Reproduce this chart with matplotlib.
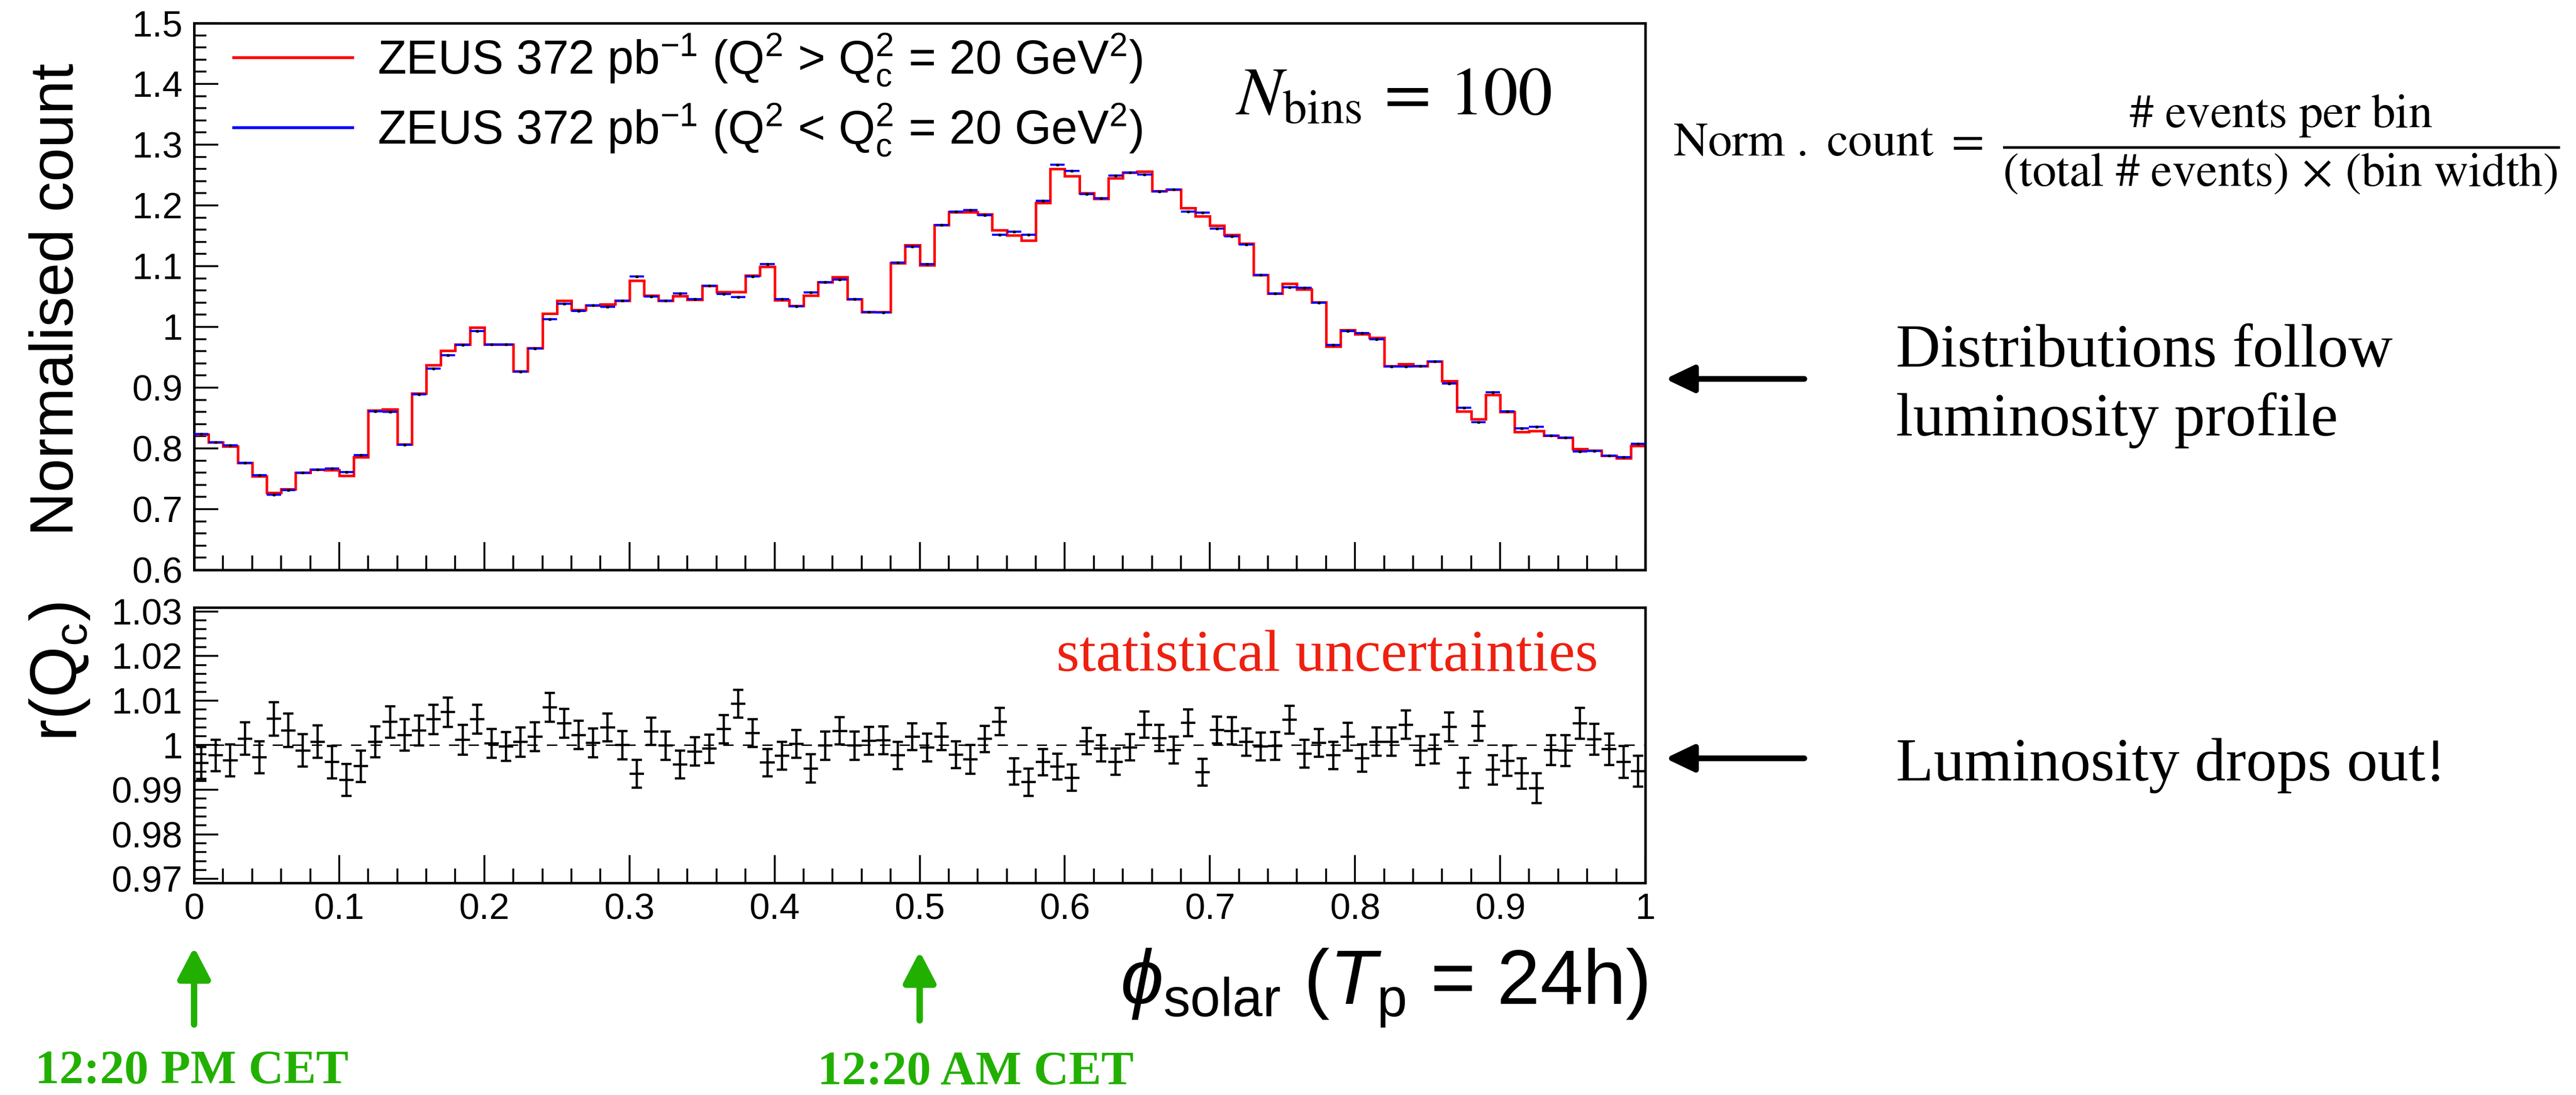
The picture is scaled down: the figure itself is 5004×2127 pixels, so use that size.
import numpy as np
import matplotlib
matplotlib.use("Agg")
import matplotlib.pyplot as plt
from matplotlib.lines import Line2D
from matplotlib.ticker import MultipleLocator, FuncFormatter

plt.rcParams['font.family'] = ['Liberation Sans', 'DejaVu Sans']
plt.rcParams['mathtext.fontset'] = 'custom'
plt.rcParams['mathtext.rm'] = 'Liberation Sans'
plt.rcParams['mathtext.it'] = 'Liberation Sans:italic'
plt.rcParams['mathtext.bf'] = 'Liberation Sans:bold'
plt.rcParams['lines.scale_dashes'] = False

# normalised counts, 100 bins in phi_solar
high_q2 = [0.823, 0.810, 0.803, 0.776, 0.754, 0.727, 0.733, 0.760, 0.765, 0.764,
           0.755, 0.786, 0.863, 0.864, 0.807, 0.891, 0.937, 0.961, 0.971, 0.999,
           0.971, 0.971, 0.927, 0.965, 1.022, 1.043, 1.028, 1.036, 1.037, 1.043,
           1.076, 1.052, 1.043, 1.051, 1.045, 1.068, 1.058, 1.058, 1.085, 1.099,
           1.044, 1.035, 1.052, 1.074, 1.082, 1.046, 1.025, 1.025, 1.105, 1.135,
           1.102, 1.168, 1.189, 1.189, 1.186, 1.159, 1.151, 1.142, 1.204, 1.260,
           1.248, 1.220, 1.211, 1.245, 1.254, 1.256, 1.224, 1.226, 1.196, 1.182,
           1.167, 1.152, 1.137, 1.086, 1.055, 1.071, 1.062, 1.041, 0.968, 0.995,
           0.988, 0.982, 0.936, 0.939, 0.936, 0.943, 0.911, 0.861, 0.848, 0.888,
           0.860, 0.827, 0.829, 0.821, 0.818, 0.799, 0.797, 0.788, 0.784, 0.804]

low_q2 = [0.824, 0.810, 0.805, 0.776, 0.756, 0.724, 0.731, 0.760, 0.765, 0.767,
          0.761, 0.789, 0.861, 0.860, 0.806, 0.889, 0.931, 0.953, 0.970, 0.993,
          0.971, 0.971, 0.926, 0.964, 1.013, 1.038, 1.026, 1.036, 1.033, 1.043,
          1.083, 1.050, 1.043, 1.055, 1.046, 1.068, 1.054, 1.049, 1.083, 1.103,
          1.046, 1.034, 1.057, 1.074, 1.078, 1.046, 1.025, 1.024, 1.106, 1.132,
          1.103, 1.168, 1.190, 1.192, 1.184, 1.152, 1.157, 1.152, 1.208, 1.267,
          1.257, 1.219, 1.212, 1.249, 1.254, 1.251, 1.223, 1.226, 1.190, 1.188,
          1.162, 1.149, 1.136, 1.086, 1.055, 1.065, 1.064, 1.040, 0.970, 0.993,
          0.990, 0.980, 0.935, 0.935, 0.936, 0.943, 0.907, 0.867, 0.843, 0.892,
          0.861, 0.833, 0.836, 0.821, 0.818, 0.795, 0.796, 0.788, 0.786, 0.808]

ratio = [0.9960, 0.9977, 0.9966, 1.0015, 0.9973, 1.0059, 1.0033, 0.9988, 1.0008, 0.9962,
         0.9922, 0.9953, 1.0008, 1.0052, 1.0023, 1.0033, 1.0058, 1.0074, 1.0012, 1.0058,
         1.0004, 0.9997, 1.0007, 1.0019, 1.0085, 1.0049, 1.0023, 1.0005, 1.0040, 1.0000,
         0.9936, 1.0031, 0.9999, 0.9957, 0.9986, 0.9992, 1.0036, 1.0093, 1.0027, 0.9961,
         0.9976, 1.0003, 0.9948, 0.9999, 1.0032, 0.9999, 1.0010, 1.0011, 0.9977, 1.0019,
         0.9995, 1.0019, 0.9979, 0.9968, 1.0014, 1.0053, 0.9941, 0.9917, 0.9962, 0.9952,
         0.9927, 1.0009, 0.9993, 0.9963, 0.9995, 1.0046, 1.0016, 0.9989, 1.0050, 0.9939,
         1.0034, 1.0032, 1.0007, 0.9997, 0.9998, 1.0057, 0.9981, 1.0005, 0.9977, 1.0019,
         0.9971, 1.0008, 1.0008, 1.0046, 0.9988, 0.9991, 1.0041, 0.9938, 1.0043, 0.9945,
         0.9965, 0.9937, 0.9904, 0.9989, 0.9988, 1.0049, 1.0013, 0.9991, 0.9962, 0.9942]

ratio_err = [0.00354, 0.00354, 0.00358, 0.00365, 0.00358, 0.00376, 0.00376, 0.00365, 0.00365, 0.00361,
             0.00358, 0.00354, 0.00347, 0.00350, 0.00356, 0.00339, 0.00332, 0.00327, 0.00332, 0.00325,
             0.00327, 0.00327, 0.00332, 0.00321, 0.00321, 0.00321, 0.00321, 0.00321, 0.00308, 0.00316,
             0.00310, 0.00310, 0.00319, 0.00314, 0.00314, 0.00314, 0.00321, 0.00316, 0.00310, 0.00308,
             0.00312, 0.00316, 0.00314, 0.00314, 0.00305, 0.00319, 0.00314, 0.00316, 0.00310, 0.00305,
             0.00314, 0.00301, 0.00299, 0.00321, 0.00294, 0.00303, 0.00299, 0.00305, 0.00299, 0.00292,
             0.00292, 0.00294, 0.00299, 0.00299, 0.00296, 0.00294, 0.00294, 0.00299, 0.00301, 0.00299,
             0.00305, 0.00305, 0.00310, 0.00310, 0.00310, 0.00310, 0.00310, 0.00310, 0.00310, 0.00314,
             0.00310, 0.00314, 0.00314, 0.00321, 0.00321, 0.00325, 0.00327, 0.00332, 0.00332, 0.00330,
             0.00339, 0.00341, 0.00336, 0.00339, 0.00350, 0.00343, 0.00347, 0.00350, 0.00358, 0.00347]

label_high = r'ZEUS 372 pb$^{-1}$ (Q$^{2}$ > Q$_{\mathrm{c}}^{2}$ = 20 GeV$^{2}$)'
label_low = r'ZEUS 372 pb$^{-1}$ (Q$^{2}$ < Q$_{\mathrm{c}}^{2}$ = 20 GeV$^{2}$)'

n_bins = len(high_q2)
edges = np.linspace(0, 1, n_bins + 1)
centers = 0.5 * (edges[:-1] + edges[1:])

W, H = 5004, 2127
def fx(x):
    return x / W
def fy(y):
    return 1 - y / H

green = '#22b000'
red_txt = '#ee2010'

fig = plt.figure(figsize=(W / 100, H / 100), dpi=100)
ax1 = fig.add_axes([fx(377), fy(1107), fx(3196) - fx(377), (1107 - 45) / H])
ax2 = fig.add_axes([fx(377), fy(1715), fx(3196) - fx(377), (1715 - 1180) / H])

fmt = FuncFormatter(lambda v, p: '%g' % round(v, 4))
for ax in (ax1, ax2):
    for s in ax.spines.values():
        s.set_linewidth(3.5)
    ax.tick_params(which='both', direction='in', top=False, right=False,
                   width=2.6, labelsize=51)
    ax.tick_params(axis='y', which='major', length=34, pad=16)
    ax.tick_params(axis='y', which='minor', length=17)
    ax.tick_params(axis='x', which='major', length=39, pad=14)
    ax.tick_params(axis='x', which='minor', length=20)
    ax.xaxis.set_major_locator(MultipleLocator(0.1))
    ax.xaxis.set_minor_locator(MultipleLocator(0.02))
    ax.xaxis.set_major_formatter(fmt)
    ax.yaxis.set_major_formatter(fmt)
    ax.set_xlim(0, 1)

# top panel
ax1.stairs(high_q2, edges, baseline=None, color='red', lw=3.6, zorder=2)
ax1.hlines(low_q2, edges[:-1], edges[1:], color='blue', lw=3.0, zorder=3)
ax1.plot(centers, low_q2, 's', color='black', ms=2.5, zorder=4)
ax1.set_ylim(0.6, 1.5)
ax1.yaxis.set_major_locator(MultipleLocator(0.1))
ax1.yaxis.set_minor_locator(MultipleLocator(0.02))
ax1.tick_params(axis='x', labelbottom=False)

handles = [Line2D([], [], color='red', lw=4), Line2D([], [], color='blue', lw=4)]
ax1.legend(handles, [label_high, label_low], loc='upper left',
           bbox_to_anchor=(fx(454), fy(62)), bbox_transform=fig.transFigure,
           frameon=False, fontsize=66, handlelength=2.52, handletextpad=0.52,
           borderpad=0, borderaxespad=0, labelspacing=0.3)

ax1.text(fx(3014), fy(223), r'$N_{\rm bins}\,=\,100$', transform=fig.transFigure,
         ha='right', va='baseline', fontsize=96, math_fontfamily='stix')

# ratio panel
ax2.axhline(1.0, color='black', lw=2, linestyle=(0, (14.4, 13)), zorder=1)
ax2.errorbar(centers, ratio, yerr=ratio_err, fmt='none', ecolor='black',
             elinewidth=3.2, capsize=7.2, capthick=3.2, zorder=3)
ax2.hlines(ratio, edges[:-1], edges[1:], color='black', lw=3.2, zorder=3)
ax2.set_ylim(0.9691, 1.0309)
ax2.yaxis.set_major_locator(MultipleLocator(0.01))
ax2.yaxis.set_minor_locator(MultipleLocator(0.002))

fig.text(fx(2052), fy(1303), 'statistical uncertainties', color=red_txt,
         family='Liberation Serif', fontsize=83, ha='left', va='baseline')

# axis titles
fig.text(fx(112), fy(582), 'Normalised count', rotation=90, fontsize=85,
         ha='center', va='center')
fig.text(fx(116), fy(1305), r'r(Q$_{\mathrm{c}}$)', rotation=90, fontsize=92,
         ha='center', va='center')
fig.text(fx(3200), fy(1951), r'$\phi_{\rm solar}$ ($T_{\rm p}$ = 24h)',
         fontsize=108, ha='right', va='baseline')

# formula and comments
fig.text(fx(4972), fy(280),
         r'$\mathrm{Norm\ .\ count}\ =\ \dfrac{\#\ \mathrm{events\ per\ bin}}'
         r'{(\mathrm{total}\ \#\ \mathrm{events})\,\times\,(\mathrm{bin\ width})}$',
         fontsize=67, math_fontfamily='stix', ha='right', va='center')
fig.text(fx(3683), fy(712), 'Distributions follow', family='Liberation Serif',
         fontsize=86, ha='left', va='baseline')
fig.text(fx(3683), fy(846), 'luminosity profile', family='Liberation Serif',
         fontsize=86, ha='left', va='baseline')
fig.text(fx(3683), fy(1516), 'Luminosity drops out!', family='Liberation Serif',
         fontsize=86, ha='left', va='baseline')

black_arrow = dict(arrowstyle='-|>,head_length=0.42,head_width=0.2',
                   mutation_scale=80, lw=8, color='black', shrinkA=0, shrinkB=0)
for yy in (736, 1473):
    fig.add_artist(matplotlib.patches.FancyArrowPatch(
        (fx(3505), fy(yy)), (fx(3235), fy(yy)), transform=fig.transFigure,
        **black_arrow))

# green markers under the x axis
green_arrow = dict(arrowstyle='-|>,head_length=0.46,head_width=0.24',
                   mutation_scale=80, lw=9, color=green, shrinkA=0, shrinkB=0)
for xv, ytop, ybot in ((0.0, 1840, 1990), (0.5, 1848, 1982)):
    ax2.annotate('', xy=(xv, fy(ytop)), xytext=(xv, fy(ybot)),
                 xycoords=('data', 'figure fraction'),
                 textcoords=('data', 'figure fraction'),
                 arrowprops=green_arrow, annotation_clip=False)

fig.text(fx(373), fy(2104), '12:20 PM CET', color=green, family='Liberation Serif',
         weight='bold', fontsize=68, ha='center', va='baseline')
fig.text(fx(1895), fy(2106), '12:20 AM CET', color=green, family='Liberation Serif',
         weight='bold', fontsize=68, ha='center', va='baseline')

plt.savefig('out.png', dpi=100)
